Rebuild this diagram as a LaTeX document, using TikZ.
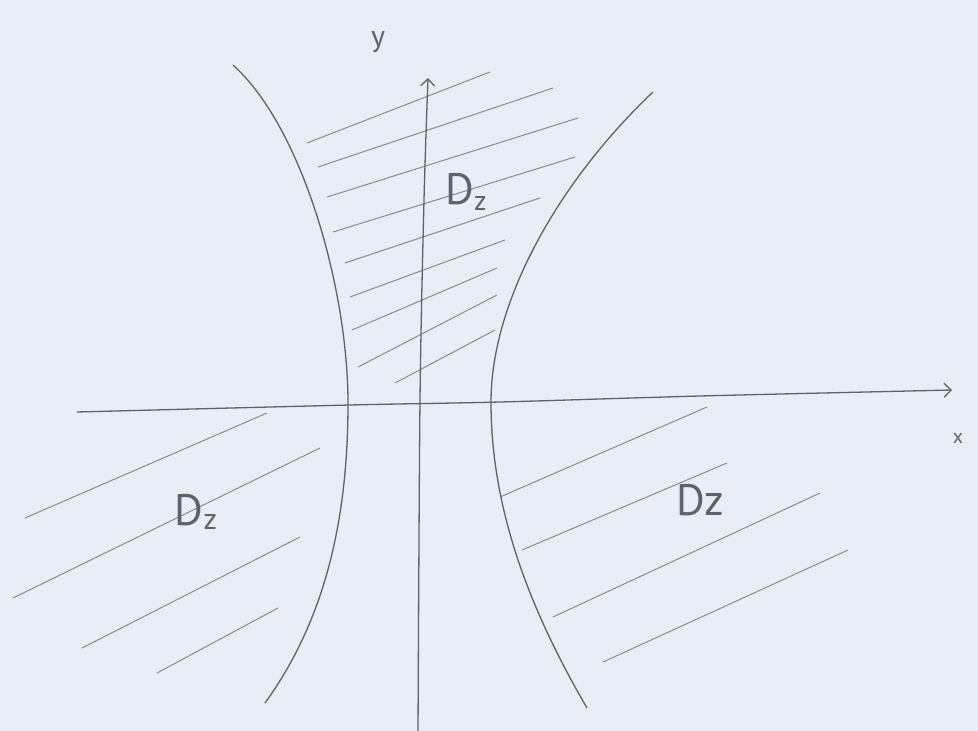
\documentclass[tikz,border=0pt]{standalone}
\usepackage{fontspec}
\setmainfont{PT Sans}
\usetikzlibrary{arrows.meta}
\definecolor{paper}{RGB}{233,237,245}
\definecolor{pencil}{RGB}{95,98,110}
\definecolor{hatchc}{RGB}{135,138,150}
\begin{document}
\begin{tikzpicture}[x=1pt,y=-1pt,
  curve/.style={draw=pencil,line width=1.3pt},
  hatch/.style={draw=hatchc,line width=1pt},
  axis/.style={draw=pencil,line width=1.3pt},
  tip/.style={-{Straight Barb[length=7pt,width=14pt,line width=1.3pt]}},
  lab/.style={text=pencil,inner sep=0pt,font=\fontsize{44}{44}\selectfont}]
\fill[paper] (0,0) rectangle (978,731);
\useasboundingbox (0,0) rectangle (978,731);

% hatching, middle region
\foreach \a/\b in {{307,143}/{490,72},{318,167}/{553,88},{327,197}/{578,118},{333,232}/{575,157},
                   {345,263}/{540,198},{350,297}/{505,240},{352,330}/{497,268},{358,367}/{497,295},{395,383}/{495,330}}
  \draw[hatch] (\a) -- (\b);
% hatching, left region
\foreach \a/\b in {{25,518}/{267,413},{13,598}/{320,448},{82,648}/{300,537},{157,673}/{278,608}}
  \draw[hatch] (\a) -- (\b);
% hatching, right region
\foreach \a/\b in {{500,497}/{707,407},{522,550}/{727,463},{553,617}/{820,493},{603,662}/{848,550}}
  \draw[hatch] (\a) -- (\b);

% hyperbola branches
\coordinate (lt) at (233,65); \coordinate (lv) at (348,403); \coordinate (lb) at (265,703);
\coordinate (rt) at (653,92); \coordinate (rv) at (491,402); \coordinate (rb) at (587,708);
\draw[curve] (lt) .. controls (303,128) and (348,290) .. (lv) .. controls (348,520) and (325,620) .. (lb);
\draw[curve] (rt) .. controls (560,180) and (491,300) .. (rv) .. controls (491,510) and (530,610) .. (rb);

% axes
\draw[axis,tip] plot[smooth] coordinates {(77,412) (350,405) (500,402) (700,396) (952,390)};
\draw[axis,tip] plot[smooth] coordinates {(418,735) (420,400) (424,200) (428,78)};

\node[text=pencil,font=\fontsize{30}{30}\selectfont] (ylab) at (378,42) {y};
\node[text=pencil,font=\fontsize{20}{20}\selectfont] (xlab) at (958,438) {x};

\node[lab] (dmid) at (466,192) {D\raisebox{-6pt}{\fontsize{28}{28}\selectfont z}};
\node[lab] (dleft) at (196,512) {D\raisebox{-4pt}{\fontsize{30}{30}\selectfont z}};
\node[lab] (dright) at (700,500) {Dz};
\end{tikzpicture}
\end{document}
